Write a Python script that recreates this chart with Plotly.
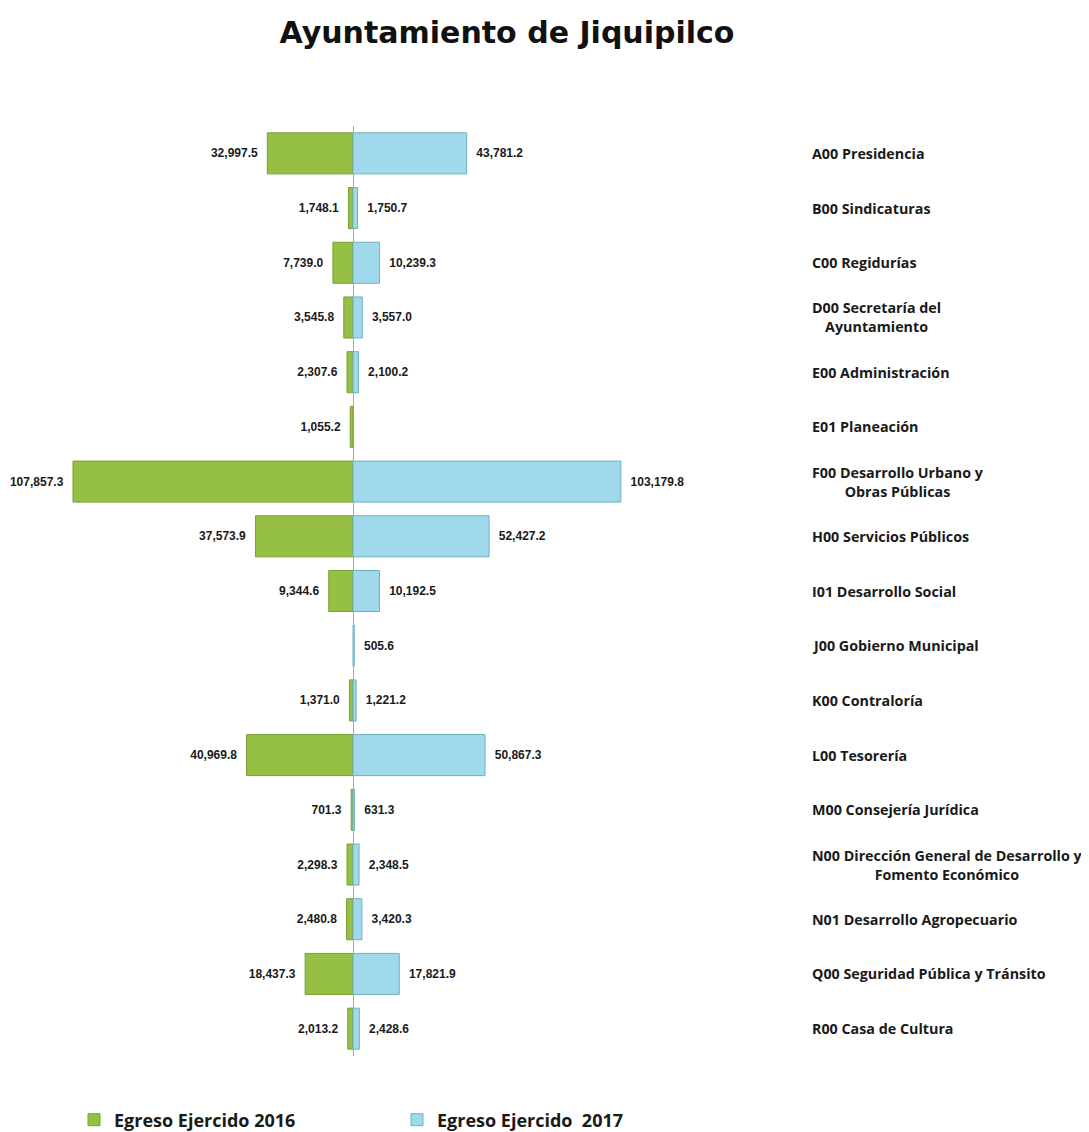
import plotly.graph_objects as go

# Datos (miles de pesos)
areas = [
    "A00 Presidencia",
    "B00 Sindicaturas",
    "C00 Regidurías",
    "D00 Secretaría del<br>Ayuntamiento",
    "E00 Administración",
    "E01 Planeación",
    "F00 Desarrollo Urbano y<br>Obras Públicas",
    "H00 Servicios Públicos",
    "I01 Desarrollo Social",
    "J00 Gobierno Municipal",
    "K00 Contraloría",
    "L00 Tesorería",
    "M00 Consejería Jurídica",
    "N00 Dirección General de Desarrollo y<br>Fomento Económico",
    "N01 Desarrollo Agropecuario",
    "Q00 Seguridad Pública y Tránsito",
    "R00 Casa de Cultura",
]
egreso_2016 = [32997.5, 1748.1, 7739.0, 3545.8, 2307.6, 1055.2, 107857.3, 37573.9,
               9344.6, None, 1371.0, 40969.8, 701.3, 2298.3, 2480.8, 18437.3, 2013.2]
egreso_2017 = [43781.2, 1750.7, 10239.3, 3557.0, 2100.2, None, 103179.8, 52427.2,
               10192.5, 505.6, 1221.2, 50867.3, 631.3, 2348.5, 3420.3, 17821.9, 2428.6]

keys = [a.split("<br>")[0] for a in areas]
NBSP = "\u00a0"


def fmt(v):
    return "" if v is None else f"{v:,.1f}"


value_font = dict(family="Liberation Sans, Arial", size=12, color="#1a1a1a", weight="bold")
label_font = dict(family="Open Sans, Lato", size=14.3, color="#1a1a1a", weight="bold")

fig = go.Figure()
fig.add_trace(go.Bar(
    y=keys,
    x=[None if v is None else -v for v in egreso_2016],
    orientation="h",
    name="Egreso Ejercido 2016",
    marker=dict(color="#96c043", line=dict(color="#78a032", width=1)),
    text=[fmt(v) + NBSP * 2 if v is not None else "" for v in egreso_2016],
    textposition="outside",
    textfont=value_font,
    constraintext="none",
    cliponaxis=False,
))
fig.add_trace(go.Bar(
    y=keys,
    x=egreso_2017,
    orientation="h",
    name="Egreso Ejercido  2017",
    marker=dict(color="#a0d9eb", line=dict(color="#6fb0c3", width=1)),
    text=[NBSP * 2 + fmt(v) if v is not None else "" for v in egreso_2017],
    textposition="outside",
    textfont=value_font,
    constraintext="none",
    cliponaxis=False,
))

for key, label in zip(keys, areas):
    fig.add_annotation(
        x=1.0395, xref="paper", xanchor="left",
        y=key, yref="y",
        text=label, showarrow=False, align="center",
        font=label_font,
    )

# the page adds an 8px body margin, so positions are given 8px up/left
fig.update_layout(
    width=1089, height=1132,
    barmode="overlay",
    bargap=0.25,
    plot_bgcolor="white",
    paper_bgcolor="white",
    margin=dict(l=12, r=317, t=118, b=84, autoexpand=False),
    title=dict(
        text="Ayuntamiento de Jiquipilco",
        x=499 / 1089, xanchor="center", y=1 - 24 / 1132, yanchor="middle",
        font=dict(family="DejaVu Sans, Liberation Sans", size=30, color="#111111", weight="bold"),
    ),
    xaxis=dict(
        range=[-128270, 164480],
        showticklabels=False, showgrid=False, ticks="",
        zeroline=True, zerolinecolor="#a8a8a8", zerolinewidth=1,
    ),
    yaxis=dict(
        autorange="reversed", showticklabels=False, showgrid=False, ticks="",
        zeroline=False,
    ),
    legend=dict(
        orientation="h",
        xref="container", x=66 / 1089, xanchor="left",
        yref="container", y=1 - 1112 / 1132, yanchor="middle",
        entrywidth=278, entrywidthmode="pixels",
        font=dict(family="Open Sans, Lato", size=18, color="#1a1a1a", weight="bold"),
        itemwidth=30,
    ),
    showlegend=True,
)

fig.write_html("out.html")
